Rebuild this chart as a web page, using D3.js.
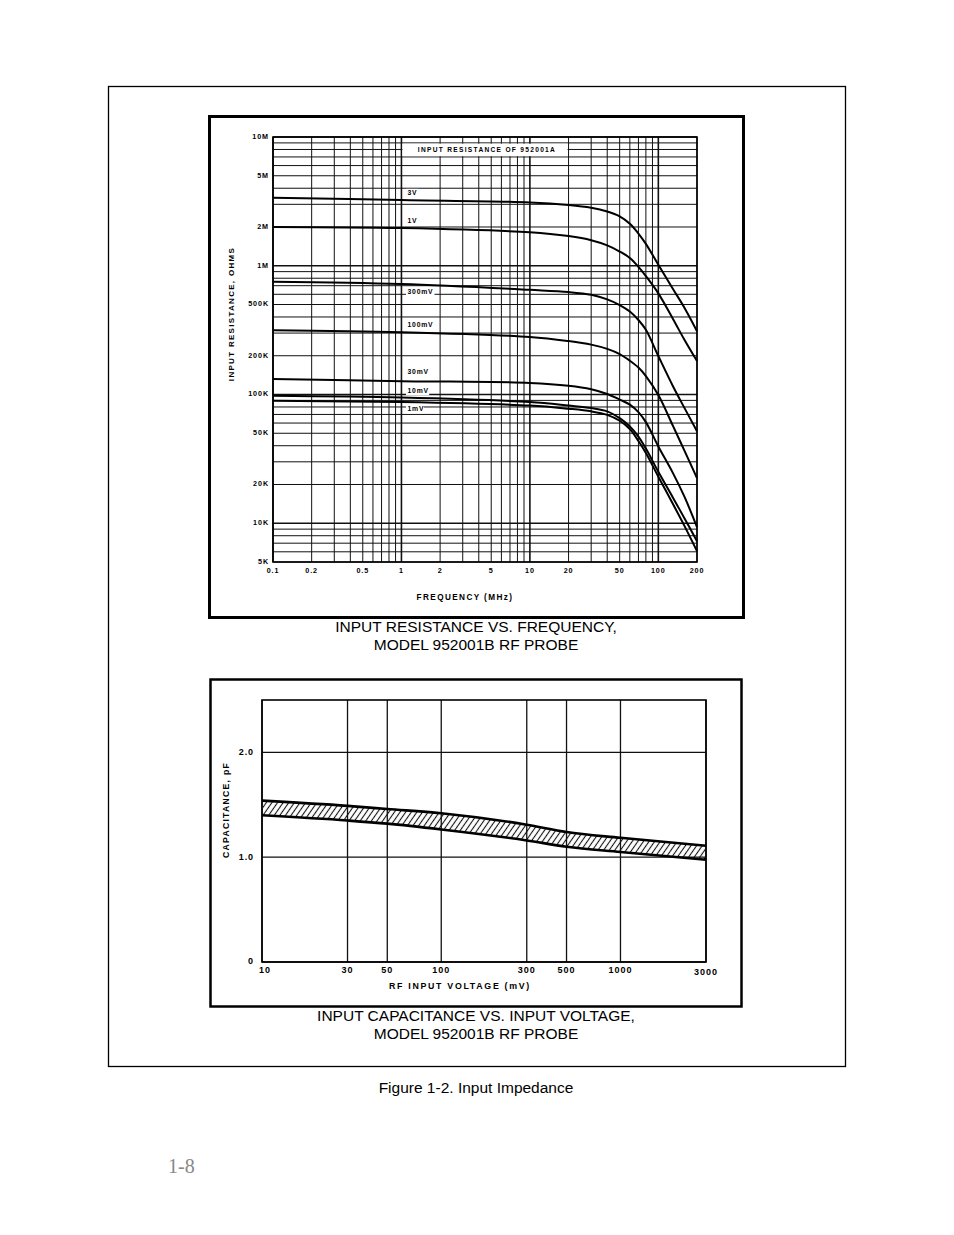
<!DOCTYPE html>
<html>
<head>
<meta charset="utf-8">
<script src="https://cdn.jsdelivr.net/npm/d3@7"></script>
<style>
  body { margin: 0; background: #fff; }
  svg { display: block; }
</style>
</head>
<body>
<div id="page"></div>
<script>
// ---- data: input resistance vs frequency (ohms) ----
const freqMHz = [0.1, 1, 10, 20, 30, 40, 50, 60, 70, 80, 100, 130, 160, 200];
const r3V    = [3.38e6, 3.24e6, 3.10e6, 2.96e6, 2.82e6, 2.64e6, 2.42e6, 2.12e6, 1.78e6, 1.48e6, 1.02e6, 6.6e5, 4.7e5, 3.1e5];
const r1V    = [2.00e6, 1.96e6, 1.82e6, 1.70e6, 1.58e6, 1.44e6, 1.29e6, 1.15e6, 9.8e5, 8.3e5, 6.1e5, 3.86e5, 2.65e5, 1.82e5];
const r300mV = [7.51e5, 7.21e5, 6.50e5, 6.25e5, 5.95e5, 5.48e5, 4.95e5, 4.41e5, 3.79e5, 3.18e5, 1.99e5, 1.16e5, 7.84e4, 5.19e4];
const r100mV = [3.16e5, 3.05e5, 2.80e5, 2.60e5, 2.44e5, 2.26e5, 2.06e5, 1.83e5, 1.62e5, 1.39e5, 9.9e4, 5.7e4, 3.65e4, 2.24e4];
const r30mV  = [1.32e5, 1.27e5, 1.23e5, 1.17e5, 1.10e5, 1.01e5, 9.13e4, 8.35e4, 7.3e4, 6.1e4, 3.95e4, 2.45e4, 1.6e4, 9.33e3];
const r10mV  = [9.77e4, 9.46e4, 8.73e4, 8.20e4, 7.85e4, 7.40e4, 6.55e4, 5.64e4, 4.71e4, 3.8e4, 2.51e4, 1.58e4, 1.09e4, 7.26e3];
const r1mV   = [8.93e4, 8.73e4, 8.20e4, 7.75e4, 7.40e4, 6.95e4, 6.25e4, 5.38e4, 4.35e4, 3.51e4, 2.3e4, 1.41e4, 9.5e3, 6.07e3];
const curveNames = ["3V", "1V", "300mV", "100mV", "30mV", "10mV", "1mV"];
const curveSeries = [r3V, r1V, r300mV, r100mV, r30mV, r10mV, r1mV];
const curveLabelAt = [3.65e6, 2.21e6, 6.28e5, 3.46e5, 1.485e5, 1.07e5, 7.74e4];

const resTicks = [1e7, 5e6, 2e6, 1e6, 5e5, 2e5, 1e5, 5e4, 2e4, 1e4, 5e3];
const resTickLabels = ["10M", "5M", "2M", "1M", "500K", "200K", "100K", "50K", "20K", "10K", "5K"];
const freqTicks = [0.1, 0.2, 0.5, 1, 2, 5, 10, 20, 50, 100, 200];
const freqTickLabels = ["0.1", "0.2", "0.5", "1", "2", "5", "10", "20", "50", "100", "200"];

// ---- data: input capacitance vs voltage (pF) ----
const voltsMV = [10, 30, 50, 100, 300, 500, 1000, 3000];
const capUpper = [1.54, 1.49, 1.46, 1.42, 1.31, 1.24, 1.185, 1.11];
const capLower = [1.40, 1.35, 1.32, 1.265, 1.16, 1.10, 1.05, 0.975];
const voltTicks = [10, 30, 50, 100, 300, 500, 1000, 3000];
const capTicks = [0, 1, 2];
const capTickLabels = ["0", "1.0", "2.0"];

const W = 954, H = 1235;
const chartFont = "'Liberation Sans', Arial, sans-serif";

const svg = d3.select('#page')
    .append('svg')
    .attr('width', W)
    .attr('height', H)
    .attr('viewBox', `0 0 ${W} ${H}`);

svg.append('rect').attr('width', W).attr('height', H).attr('fill', '#fff');

// hatch for the capacitance band
svg.append('defs').append('pattern')
    .attr('id', 'hatch')
    .attr('patternUnits', 'userSpaceOnUse')
    .attr('width', 4.6).attr('height', 10)
    .attr('patternTransform', 'rotate(35)')
    .append('line')
    .attr('x1', 2.3).attr('x2', 2.3).attr('y1', 0).attr('y2', 10)
    .attr('stroke', '#111').attr('stroke-width', 1.1);

// outer page frame
svg.append('rect')
    .attr('x', 108.5).attr('y', 86.5).attr('width', 737).attr('height', 980)
    .attr('fill', 'none').attr('stroke', '#000').attr('stroke-width', 1.3);

// ================= top chart =================
svg.append('rect')
    .attr('x', 209.5).attr('y', 116.5).attr('width', 534).attr('height', 501)
    .attr('fill', 'none').attr('stroke', '#000').attr('stroke-width', 3);

const x1 = d3.scaleLog().domain([0.1, 200]).range([273, 697]);
const y1 = d3.scaleLog().domain([5e3, 1e7]).range([562, 137]);

// log grid, 1..9 per decade
const logGrid = (lo, hi) => {
    const out = [];
    for (let e = Math.floor(Math.log10(lo)); e <= Math.ceil(Math.log10(hi)); e++) {
        for (let m = 1; m <= 9; m++) {
            const v = m * Math.pow(10, e);
            if (v >= lo * 0.9999 && v <= hi * 1.0001) out.push(v);
        }
    }
    return out;
};
const isDecade = v => Math.abs(Math.log10(v) - Math.round(Math.log10(v))) < 1e-6;

const g1 = svg.append('g');
g1.selectAll('.vg').data(logGrid(0.1, 200)).join('line')
    .attr('x1', d => x1(d)).attr('x2', d => x1(d))
    .attr('y1', y1(1e7)).attr('y2', y1(5e3))
    .attr('stroke', '#111')
    .attr('stroke-width', d => isDecade(d) ? 1.6 : 1);
g1.selectAll('.hg').data(logGrid(5e3, 1e7)).join('line')
    .attr('y1', d => y1(d)).attr('y2', d => y1(d))
    .attr('x1', x1(0.1)).attr('x2', x1(200))
    .attr('stroke', '#111')
    .attr('stroke-width', d => isDecade(d) ? 1.6 : 1);
// plot edges
g1.append('rect')
    .attr('x', x1(0.1)).attr('y', y1(1e7))
    .attr('width', x1(200) - x1(0.1)).attr('height', y1(5e3) - y1(1e7))
    .attr('fill', 'none').attr('stroke', '#000').attr('stroke-width', 1.6);

// title box
g1.append('rect')
    .attr('x', x1(1) + 1).attr('y', y1(9e6) + 0.8)
    .attr('width', x1(20) - x1(1) - 2).attr('height', y1(7e6) - y1(9e6) - 1.6)
    .attr('fill', '#fff');
g1.append('text')
    .attr('x', 487).attr('y', 150)
    .attr('text-anchor', 'middle').attr('dominant-baseline', 'middle')
    .attr('font-family', chartFont).attr('font-weight', 'bold')
    .attr('font-size', 6.6).attr('letter-spacing', 1.3)
    .text('INPUT RESISTANCE OF 952001A');

// curves
const resLine = d3.line()
    .x((d, i) => x1(freqMHz[i]))
    .y(d => y1(d))
    .curve(d3.curveCatmullRom.alpha(0.5));
g1.selectAll('.curve').data(curveSeries).join('path')
    .attr('d', resLine)
    .attr('fill', 'none').attr('stroke', '#000').attr('stroke-width', 2);

// curve labels on white chips
const labels = g1.selectAll('.clab').data(curveNames).join('g')
    .attr('transform', (d, i) => `translate(406, ${y1(curveLabelAt[i])})`);
labels.append('rect')
    .attr('x', 0).attr('y', -4.5)
    .attr('width', d => d.length * 5.3 + 2).attr('height', 9)
    .attr('fill', '#fff');
labels.append('text')
    .attr('x', 1.5).attr('dominant-baseline', 'middle')
    .attr('font-family', chartFont).attr('font-weight', 'bold')
    .attr('font-size', 6.8).attr('letter-spacing', 0.8)
    .text(d => d);

// axis tick labels
g1.selectAll('.ylab').data(resTicks).join('text')
    .attr('x', 269).attr('y', d => y1(d))
    .attr('text-anchor', 'end').attr('dominant-baseline', 'middle')
    .attr('font-family', chartFont).attr('font-weight', 'bold')
    .attr('font-size', 7.2).attr('letter-spacing', 0.9)
    .text((d, i) => resTickLabels[i]);
g1.selectAll('.xlab').data(freqTicks).join('text')
    .attr('x', d => x1(d)).attr('y', 571)
    .attr('text-anchor', 'middle').attr('dominant-baseline', 'middle')
    .attr('font-family', chartFont).attr('font-weight', 'bold')
    .attr('font-size', 7.2).attr('letter-spacing', 0.9)
    .text((d, i) => freqTickLabels[i]);

g1.append('text')
    .attr('x', 465).attr('y', 598)
    .attr('text-anchor', 'middle').attr('dominant-baseline', 'middle')
    .attr('font-family', chartFont).attr('font-weight', 'bold')
    .attr('font-size', 8.2).attr('letter-spacing', 1.4)
    .text('FREQUENCY (MHz)');
g1.append('text')
    .attr('transform', 'translate(232, 314) rotate(-90)')
    .attr('text-anchor', 'middle').attr('dominant-baseline', 'middle')
    .attr('font-family', chartFont).attr('font-weight', 'bold')
    .attr('font-size', 8).attr('letter-spacing', 1.3)
    .text('INPUT RESISTANCE, OHMS');

// ================= bottom chart =================
svg.append('rect')
    .attr('x', 210.5).attr('y', 679.5).attr('width', 531).attr('height', 327)
    .attr('fill', 'none').attr('stroke', '#000').attr('stroke-width', 2.5);

const x2 = d3.scaleLog().domain([10, 3000]).range([262, 706]);
const y2 = d3.scaleLinear().domain([0, 2.5]).range([962, 700]);

const g2 = svg.append('g');
g2.selectAll('.vg').data(voltTicks).join('line')
    .attr('x1', d => x2(d)).attr('x2', d => x2(d))
    .attr('y1', y2(2.5)).attr('y2', y2(0))
    .attr('stroke', '#111').attr('stroke-width', 1.3);
g2.selectAll('.hg').data(capTicks).join('line')
    .attr('y1', d => y2(d)).attr('y2', d => y2(d))
    .attr('x1', x2(10)).attr('x2', x2(3000))
    .attr('stroke', '#111').attr('stroke-width', 1.3);
g2.append('rect')
    .attr('x', x2(10)).attr('y', y2(2.5))
    .attr('width', x2(3000) - x2(10)).attr('height', y2(0) - y2(2.5))
    .attr('fill', 'none').attr('stroke', '#000').attr('stroke-width', 1.6);

const band = d3.area()
    .x((d, i) => x2(voltsMV[i]))
    .y0((d, i) => y2(capLower[i]))
    .y1(d => y2(d))
    .curve(d3.curveMonotoneX);
g2.append('path')
    .datum(capUpper)
    .attr('d', band)
    .attr('fill', 'url(#hatch)');

const capLine = d3.line()
    .x((d, i) => x2(voltsMV[i]))
    .y(d => y2(d))
    .curve(d3.curveMonotoneX);
g2.selectAll('.edge').data([capUpper, capLower]).join('path')
    .attr('d', capLine)
    .attr('fill', 'none').attr('stroke', '#000').attr('stroke-width', 2.6);

g2.selectAll('.ylab').data(capTicks).join('text')
    .attr('x', 254).attr('y', d => y2(d))
    .attr('text-anchor', 'end').attr('dominant-baseline', 'middle')
    .attr('font-family', chartFont).attr('font-weight', 'bold')
    .attr('font-size', 9).attr('letter-spacing', 0.9)
    .text((d, i) => capTickLabels[i]);
g2.selectAll('.xlab').data(voltTicks).join('text')
    .attr('x', (d, i) => i === 0 ? x2(d) + 3 : x2(d)).attr('y', d => d === 3000 ? 973 : 971)
    .attr('text-anchor', 'middle').attr('dominant-baseline', 'middle')
    .attr('font-family', chartFont).attr('font-weight', 'bold')
    .attr('font-size', 9).attr('letter-spacing', 1)
    .text(d => String(d));

g2.append('text')
    .attr('x', 460).attr('y', 987)
    .attr('text-anchor', 'middle').attr('dominant-baseline', 'middle')
    .attr('font-family', chartFont).attr('font-weight', 'bold')
    .attr('font-size', 8.8).attr('letter-spacing', 1.7)
    .text('RF INPUT VOLTAGE (mV)');
g2.append('text')
    .attr('transform', 'translate(227, 810) rotate(-90)')
    .attr('text-anchor', 'middle').attr('dominant-baseline', 'middle')
    .attr('font-family', chartFont).attr('font-weight', 'bold')
    .attr('font-size', 8.6).attr('letter-spacing', 1.3)
    .text('CAPACITANCE, pF');

// ================= captions =================
const captions = [
    { t: 'INPUT RESISTANCE VS. FREQUENCY,', y: 628 },
    { t: 'MODEL 952001B RF PROBE', y: 646 },
    { t: 'INPUT CAPACITANCE VS. INPUT VOLTAGE,', y: 1017 },
    { t: 'MODEL 952001B RF PROBE', y: 1035 },
    { t: 'Figure 1-2. Input Impedance', y: 1089 },
];
svg.selectAll('.cap').data(captions).join('text')
    .attr('x', 476).attr('y', d => d.y)
    .attr('text-anchor', 'middle').attr('dominant-baseline', 'middle')
    .attr('font-family', chartFont).attr('font-size', 15.5)
    .attr('fill', '#000')
    .text(d => d.t);

svg.append('text')
    .attr('x', 168).attr('y', 1168)
    .attr('dominant-baseline', 'middle')
    .attr('font-family', "'Liberation Serif', 'Times New Roman', serif")
    .attr('font-size', 20).attr('fill', '#888')
    .text('1-8');
</script>
</body>
</html>
